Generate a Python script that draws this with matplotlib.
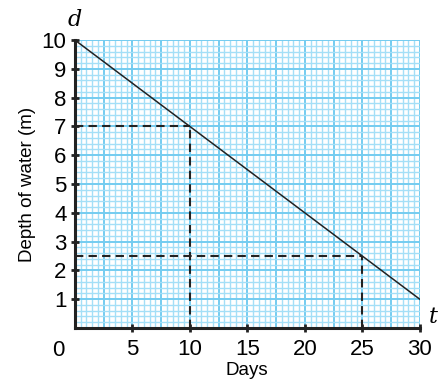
import numpy as np
import matplotlib.pyplot as plt
from matplotlib.ticker import MultipleLocator

plt.rcParams['font.family'] = ['Liberation Sans', 'DejaVu Sans']

# dados do gráfico
dias = [0, 30]
profundidade = [10, 1]
leitura_x = [10, 25]
leitura_y = [7, 2.5]
x_ticks = [5, 10, 15, 20, 25, 30]
y_ticks = [1, 2, 3, 4, 5, 6, 7, 8, 9, 10]

fig = plt.figure(figsize=(4.4, 3.83), dpi=100)
ax = fig.add_axes([0.170, 0.1436, 0.784, 0.752])

# papel milimetrado
for v in np.arange(0, 30.01, 0.5):
    major = abs(v / 2.5 - round(v / 2.5)) < 1e-6
    ax.axvline(v, color='#74ccf0' if major else '#a4dff7', lw=1.4 if major else 1.0, zorder=0)
for v in np.arange(0, 10.01, 0.2):
    major = abs(v - round(v)) < 1e-6
    ax.axhline(v, color='#74ccf0' if major else '#a4dff7', lw=1.4 if major else 1.0, zorder=0)

# reta
ax.plot(dias, profundidade, color='#222222', lw=1.1, zorder=3)

# leituras tracejadas
for lx, ly in zip(leitura_x, leitura_y):
    ax.plot([0, lx], [ly, ly], color='#222222', lw=1.5, ls=(0, (4, 2.5)), zorder=3)
    ax.plot([lx, lx], [0, ly], color='#222222', lw=1.5, ls=(0, (4, 2.5)), zorder=3)

ax.set_xlim(0, 30)
ax.set_ylim(0, 10)
ax.set_xticks(x_ticks)
ax.set_yticks(y_ticks)
ax.tick_params(which='minor', length=0)
ax.tick_params(which='major', direction='inout', length=6, width=2, labelsize=16, pad=3, color='#222222')
ax.tick_params(axis='x', pad=5)

for s in ['top', 'right']:
    ax.spines[s].set_visible(False)
for s in ['left', 'bottom']:
    ax.spines[s].set_linewidth(2.2)
    ax.spines[s].set_color('#222222')
    ax.spines[s].set_zorder(4)

ax.text(-0.03, -0.04, '0', transform=ax.transAxes, fontsize=16, ha='right', va='top')
ax.text(0.0, 1.03, 'd', transform=ax.transAxes, fontsize=16, style='italic', family='DejaVu Serif', ha='center', va='bottom')
ax.text(1.025, 0.0, 't', transform=ax.transAxes, fontsize=16, style='italic', family='DejaVu Serif', ha='left', va='bottom')

ax.set_xlabel('Days', fontsize=13.5, labelpad=1)
ax.set_ylabel('Depth of water (m)', fontsize=13.5, labelpad=4)

plt.savefig('out.png', dpi=100)
